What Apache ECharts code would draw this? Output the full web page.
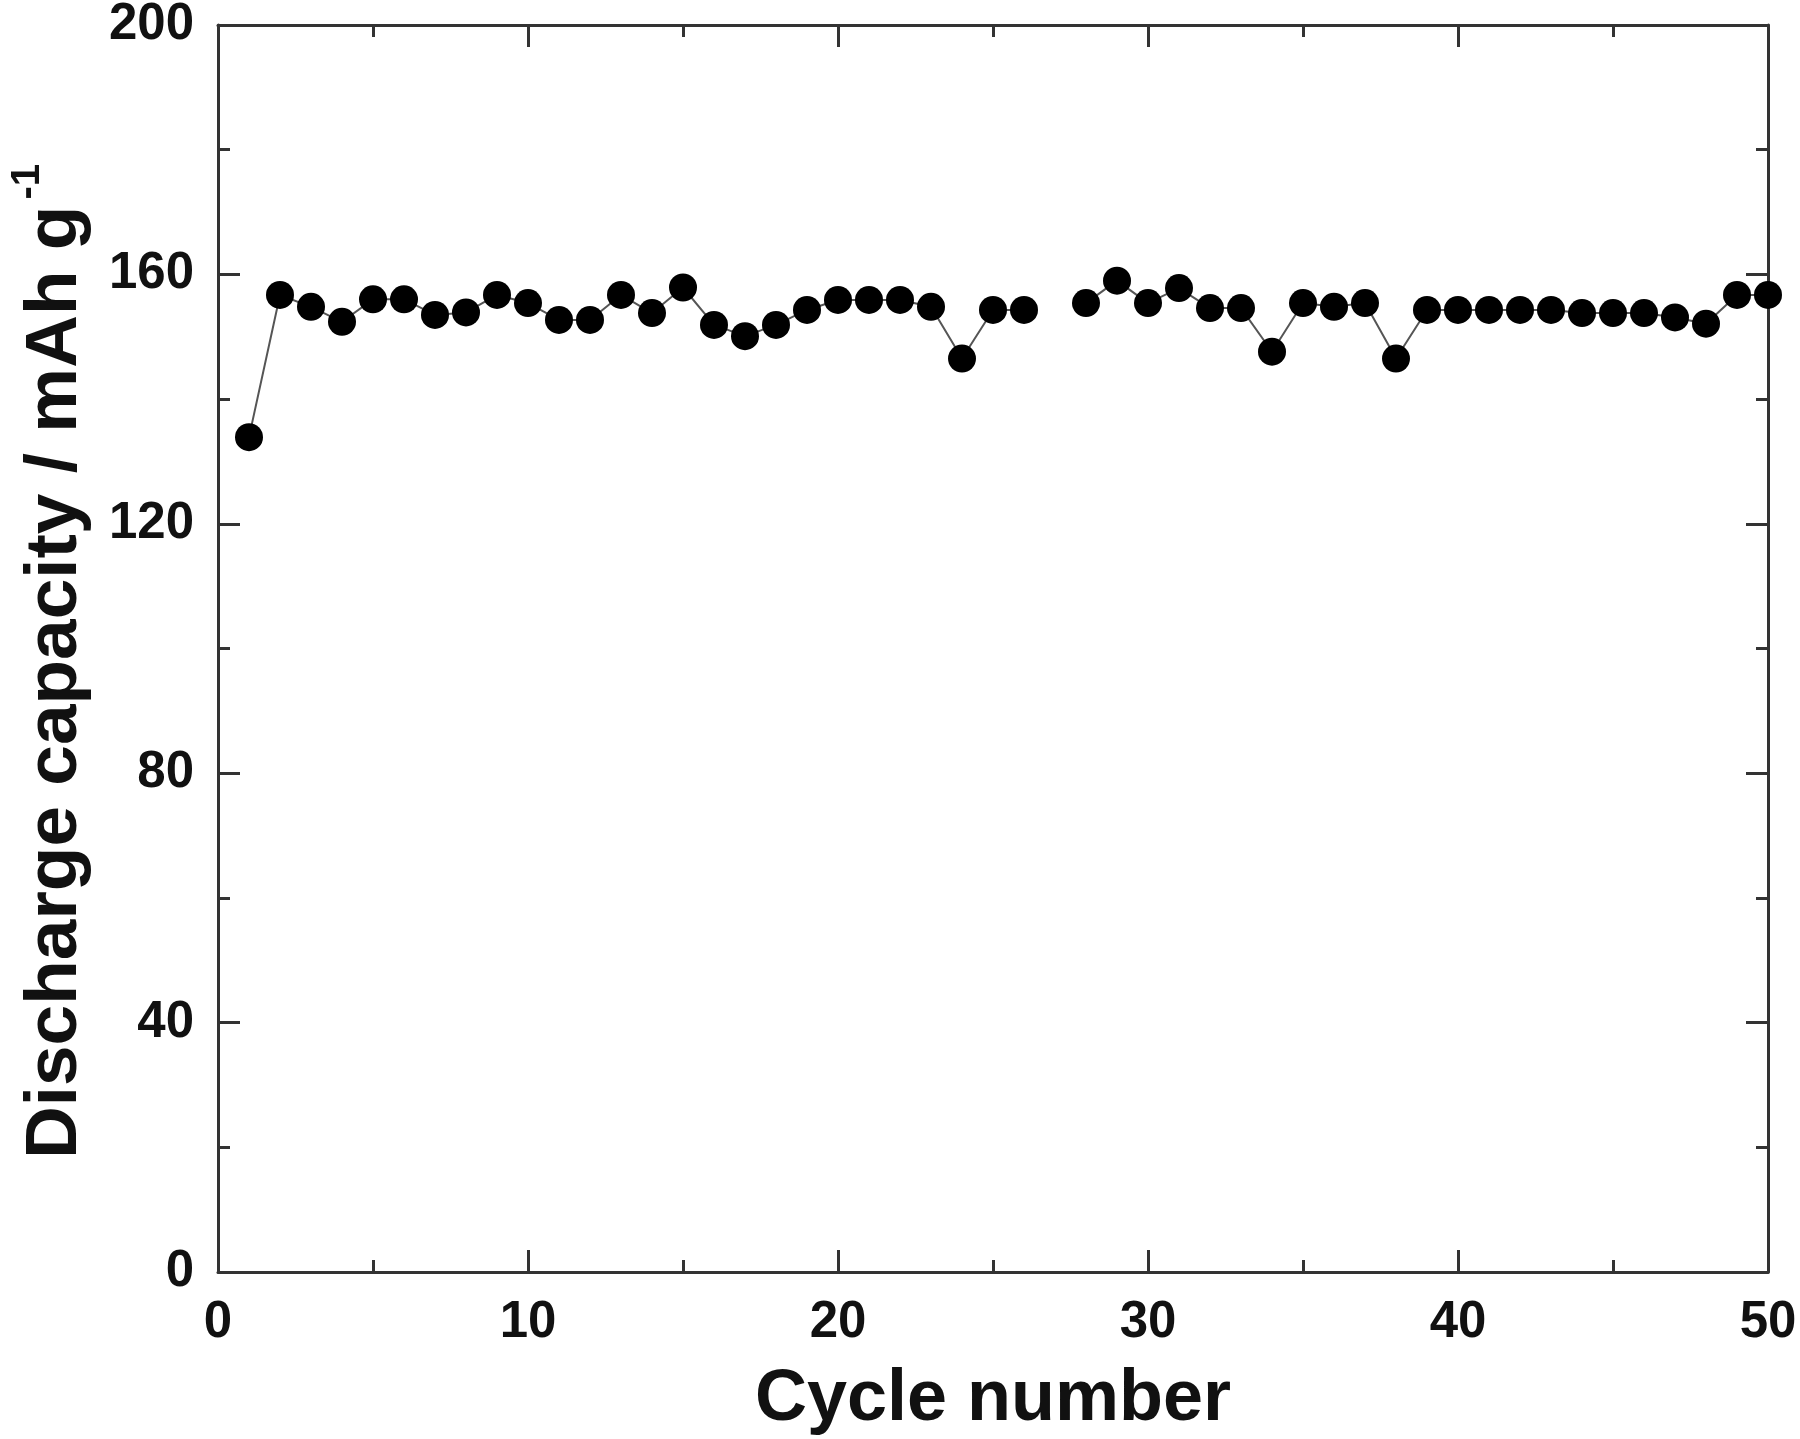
<!DOCTYPE html>
<html>
<head>
<meta charset="UTF-8">
<title>Discharge capacity vs cycle</title>
<script src="https://cdn.jsdelivr.net/npm/echarts@6/dist/echarts.min.js"></script>
<style>
  html, body { margin: 0; padding: 0; background: #fff; }
  #main { width: 1800px; height: 1439px; }
</style>
</head>
<body>
<div id="main"></div>
<script>
// cycle numbers and discharge capacity (mAh/g), cycle 27 has no point
const cycles = [1, 2, 3, 4, 5, 6, 7, 8, 9, 10,
  11, 12, 13, 14, 15, 16, 17, 18, 19, 20,
  21, 22, 23, 24, 25, 26, 27, 28, 29, 30,
  31, 32, 33, 34, 35, 36, 37, 38, 39, 40,
  41, 42, 43, 44, 45, 46, 47, 48, 49, 50]
const capacity = [133.9, 156.7, 154.8, 152.4, 156.0, 156.0, 153.5, 153.9, 156.7, 155.4,
  152.7, 152.7, 156.7, 153.8, 157.9, 151.9, 150.1, 151.9, 154.3, 155.9,
  155.9, 155.9, 154.8, 146.5, 154.3, 154.3, null, 155.4, 159.0, 155.4,
  157.8, 154.6, 154.6, 147.6, 155.4, 154.8, 155.4, 146.5, 154.3, 154.3,
  154.3, 154.3, 154.3, 153.8, 153.8, 153.8, 153.1, 152.1, 156.7, 156.7]

const font = 'Liberation Sans, Arial, Helvetica, sans-serif'
const axisColor = '#333'

function boxAxis (isMain, extra) {
  return Object.assign({
    type: 'value',
    axisLine: { show: true, onZero: false, lineStyle: { color: axisColor, width: 3 } },
    axisTick: { show: true, inside: true, length: 22, lineStyle: { color: axisColor, width: 3 } },
    minorTick: { show: true, splitNumber: 2, length: 12, lineStyle: { color: axisColor, width: 3 } },
    splitLine: { show: false },
    axisLabel: { show: isMain }
  }, extra)
}

const labelStyle = { color: '#111', fontFamily: font, fontWeight: 'bold', fontSize: 51 }

const chart = echarts.init(document.getElementById('main'))
chart.setOption({
  animation: false,
  backgroundColor: '#fff',
  grid: { left: 218, right: 32, top: 25, bottom: 167, outerBoundsMode: 'none', containLabel: false },
  xAxis: [
    boxAxis(true, {
      position: 'bottom', min: 0, max: 50, interval: 10,
      name: 'Cycle number', nameLocation: 'middle', nameGap: 92, nameMoveOverlap: false,
      nameTextStyle: { color: '#111', fontFamily: font, fontWeight: 'bold', fontSize: 72 },
      axisLabel: Object.assign({ margin: 25 }, labelStyle)
    }),
    boxAxis(false, { position: 'top', min: 0, max: 50, interval: 10 })
  ],
  yAxis: [
    boxAxis(true, {
      position: 'left', min: 0, max: 200, interval: 40,
      name: '{t|Discharge capacity / mAh g}{s|-1}',
      nameLocation: 'middle', nameGap: 126, nameRotate: 90,
      nameTextStyle: {
        padding: [0, 26, 0, 0],
        rich: {
          t: { color: '#111', fontFamily: font, fontWeight: 'bold', fontSize: 73, lineHeight: 84, verticalAlign: 'bottom' },
          s: { color: '#111', fontFamily: font, fontWeight: 'bold', fontSize: 40, lineHeight: 84, verticalAlign: 'top', padding: [0, 0, 0, 6] }
        }
      },
      axisLabel: Object.assign({ margin: 24 }, labelStyle)
    }),
    boxAxis(false, { position: 'right', min: 0, max: 200, interval: 40 })
  ],
  series: [{
    type: 'line',
    data: cycles.map((c, i) => [c, capacity[i]]),
    connectNulls: false,
    symbol: 'circle',
    symbolSize: 28,
    itemStyle: { color: '#000' },
    lineStyle: { color: '#555', width: 2 }
  }]
})
</script>
</body>
</html>
